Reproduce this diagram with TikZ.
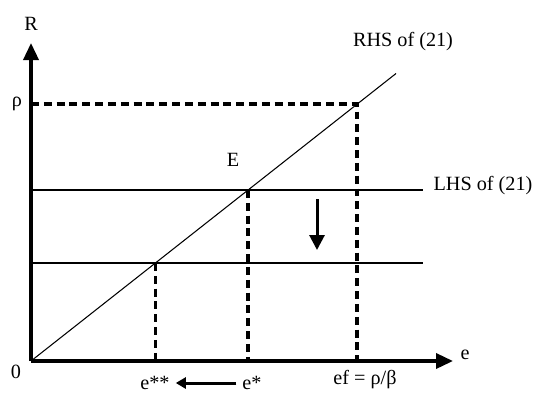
\documentclass[tikz,border=0pt]{standalone}
\usepackage{fontspec}
\setmainfont{Liberation Serif}
\usepackage{tikz}
\usetikzlibrary{arrows.meta,calc,positioning}

\begin{document}
\begin{tikzpicture}[font=\fontsize{11.5}{13}\selectfont,
  axis/.style={line width=2pt,-{Triangle[length=0.34cm,width=0.3cm]}},
  dashline/.style={line width=2pt,dash pattern=on 4.5pt off 2.8pt},
  thinline/.style={line width=0.6pt}]
\useasboundingbox (0,0) rectangle (10.72,7.84);
\coordinate (O) at (0.62,0.62);
\coordinate (rhs) at (7.92,6.37);
\coordinate (rho) at (7.14,5.76);
\coordinate (E) at (4.96,4.04);
\coordinate (F) at (3.11,2.58);
\draw[axis] (O)--(0.62,6.98);
\draw[axis] (O)--(9.06,0.62);
\draw[thinline] (O)--(rhs);
\draw[thinline] (0.62,4.04)--(8.46,4.04);
\draw[thinline] (0.62,2.58)--(8.46,2.58);
\draw[dashline] (0.62,5.76)--(rho)--(7.14,0.62);
\draw[dashline] (E)--(4.96,0.62);
\draw[dashline] (F)--(3.11,0.62);
\node (R) at (0.62,7.36) {R};
\node (rhol) at (0.34,5.76) {ρ};
\node (zero) at (0.32,0.4) {0};
\node (e) at (9.3,0.74) {e};
\node (rhsl) at (8.06,7.0) {RHS of (21)};
\node (lhsl) at (9.66,4.12) {LHS of (21)};
\node (El) at (4.66,4.64) {E};
\coordinate (d1) at (6.34,3.86);
\coordinate (d2) at (6.34,2.84);
\draw[line width=1.7pt,-{Triangle[length=0.3cm,width=0.3cm]}] (d1)--(d2);
\node (ess) at (3.1,0.18) {e**};
\node (es) at (5.04,0.18) {e*};
\node (ef) at (7.3,0.24) {ef = ρ/β};
\draw[line width=1.7pt,-{Triangle[length=0.2cm,width=0.22cm]}] (es.west)--(ess.east);
\end{tikzpicture}
\end{document}
